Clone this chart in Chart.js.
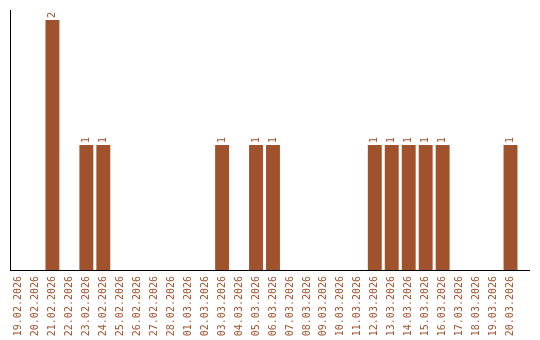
<!DOCTYPE html>
<html>
<head>
<meta charset="utf-8">
<script src="https://cdn.jsdelivr.net/npm/chart.js@4/dist/chart.umd.min.js"></script>
<style>
  html, body { margin: 0; padding: 0; background: #fff; }
  #wrap { width: 540px; height: 340px; }
</style>
</head>
<body>
<div id="wrap"><canvas id="chart"></canvas></div>
<script>
const dates = [
  "19.02.2026", "20.02.2026", "21.02.2026", "22.02.2026", "23.02.2026",
  "24.02.2026", "25.02.2026", "26.02.2026", "27.02.2026", "28.02.2026",
  "01.03.2026", "02.03.2026", "03.03.2026", "04.03.2026", "05.03.2026",
  "06.03.2026", "07.03.2026", "08.03.2026", "09.03.2026", "10.03.2026",
  "11.03.2026", "12.03.2026", "13.03.2026", "14.03.2026", "15.03.2026",
  "16.03.2026", "17.03.2026", "18.03.2026", "19.03.2026", "20.03.2026"
];
const counts = [
  0, 0, 2, 0, 1,
  1, 0, 0, 0, 0,
  0, 0, 1, 0, 1,
  1, 0, 0, 0, 0,
  0, 1, 1, 1, 1,
  1, 0, 0, 0, 1
];

const brown = '#a0522d';
const monoFont = { family: 'DejaVu Sans Mono', size: 10 };

// value labels above bars, rotated like the axis labels
const barLabels = {
  id: 'barLabels',
  afterDatasetsDraw(chart) {
    const ctx = chart.ctx;
    const meta = chart.getDatasetMeta(0);
    ctx.save();
    ctx.fillStyle = brown;
    ctx.font = '10px "DejaVu Sans Mono"';
    ctx.textAlign = 'left';
    ctx.textBaseline = 'middle';
    meta.data.forEach((bar, i) => {
      if (!counts[i]) return;
      ctx.save();
      ctx.translate(bar.x, bar.y - 2);
      ctx.rotate(-Math.PI / 2);
      ctx.fillText(String(counts[i]), 0, 0);
      ctx.restore();
    });
    ctx.restore();
  }
};

// the baseline runs a bit past the last bar
const longBase = {
  id: 'longBase',
  afterDraw(chart) {
    const ctx = chart.ctx;
    const y = Math.round(chart.chartArea.bottom) + 0.5;
    ctx.save();
    ctx.strokeStyle = '#000';
    ctx.lineWidth = 1;
    ctx.beginPath();
    ctx.moveTo(chart.chartArea.right, y);
    ctx.lineTo(chart.width - 10, y);
    ctx.stroke();
    ctx.restore();
  }
};

new Chart(document.getElementById('chart'), {
  type: 'bar',
  data: {
    labels: dates,
    datasets: [{
      data: counts,
      backgroundColor: brown,
      borderWidth: 0,
      barPercentage: 0.82,
      categoryPercentage: 1
    }]
  },
  options: {
    responsive: true,
    maintainAspectRatio: false,
    animation: false,
    layout: { padding: { top: 10, right: 21, left: 8, bottom: 0 } },
    plugins: {
      legend: { display: false },
      tooltip: { enabled: false }
    },
    scales: {
      x: {
        afterFit(scale) { scale.height = 70; },
        grid: { display: false, drawTicks: false },
        border: { color: '#000', width: 1 },
        ticks: {
          color: brown,
          font: monoFont,
          minRotation: 90,
          maxRotation: 90,
          autoSkip: false,
          padding: 6
        }
      },
      y: {
        min: 0,
        max: 2.08,
        afterFit(scale) { scale.width = 2; },
        grid: { display: false, drawTicks: false },
        border: { color: '#000', width: 1 },
        ticks: { display: false }
      }
    }
  },
  plugins: [barLabels, longBase]
});
</script>
</body>
</html>
